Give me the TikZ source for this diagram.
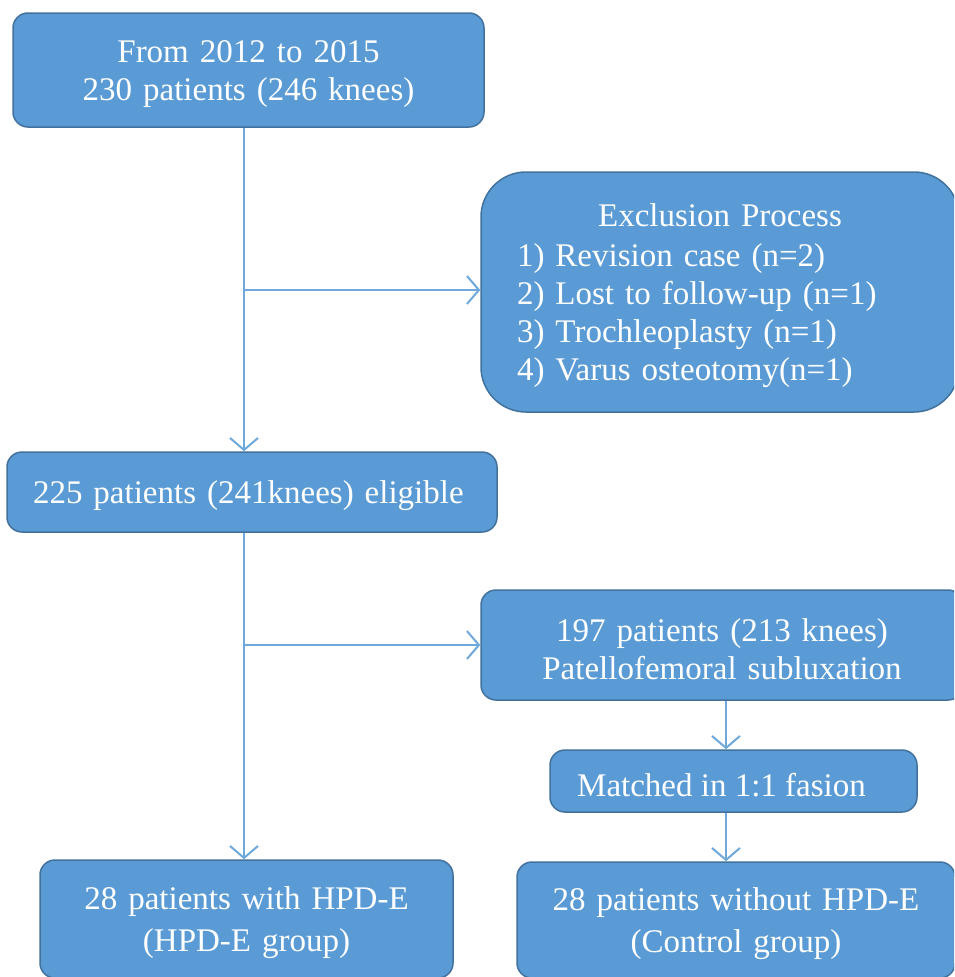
\documentclass[tikz,border=0pt]{standalone}
\usepackage{fontspec}
\setmainfont{Liberation Serif}
\usetikzlibrary{arrows.meta}
\definecolor{boxfill}{HTML}{5B9BD5}
\definecolor{boxline}{HTML}{41719C}
\definecolor{linkblue}{HTML}{6FA8DC}
\newcommand\boxfont{\fontsize{33}{38}\selectfont}
\tikzset{
  fbox/.style={draw=boxline, fill=boxfill, line width=1.5pt, rounded corners=15pt,
    text=white, font=\boxfont, align=center, inner sep=0pt,
    execute at begin node={\rule{0pt}{31pt}}},
  link/.style={draw=linkblue, line width=2pt,
    -{Straight Barb[length=12pt,width=28pt,line width=2pt]}},
}
\begin{document}
\begin{tikzpicture}[x=1pt,y=-1pt]
\useasboundingbox (0,0) rectangle (954,977);
\clip (0,0) rectangle (954,977);
\node[fbox, minimum width=471pt, minimum height=114pt, text width=451pt] (top) at (248.5,70)
  {From 2012 to 2015\\230 patients (246 knees)};
\node[fbox, rounded corners=45pt, minimum width=478pt, minimum height=240pt,
  text width=406pt, align=left] (excl) at (720,292)
  {\makebox[406pt][c]{Exclusion Process}\\[2pt]
   1) Revision case (n=2)\\
   2) Lost to follow-up (n=1)\\
   3) Trochleoplasty (n=1)\\
   4) Varus osteotomy(n=1)};
\node[fbox, minimum width=490pt, minimum height=80pt, text width=438pt, align=left] (elig) at (252,492)
  {225 patients (241knees) eligible};
\node[fbox, minimum width=482pt, minimum height=110pt, text width=462pt] (s197) at (722,645)
  {197 patients (213 knees)\\Patellofemoral subluxation};
\node[fbox, minimum width=367pt, minimum height=62pt] (match) at (733.5,781)
  {\hspace*{-24pt}Matched in 1:1 fasion};
\node[fbox, minimum width=413pt, minimum height=118pt, text width=393pt] (hpd) at (246.5,919)
  {28 patients with HPD-E\\[4pt](HPD-E group)};
\node[fbox, minimum width=438pt, minimum height=116pt, text width=418pt] (ctrl) at (736,920)
  {28 patients without HPD-E\\[4pt](Control group)};
\coordinate (j1) at (244,290);
\coordinate (j2) at (244,645);
\coordinate (c1) at (726,700);
\draw[link] (top.south -| j1) -- (elig.north -| j1);
\draw[link] (j1) -- (j1 -| excl.west);
\draw[link] (elig.south -| j1) -- (hpd.north -| j1);
\draw[link] (j2) -- (j2 -| s197.west);
\draw[link] (s197.south -| c1) -- (match.north -| c1);
\draw[link] (match.south -| c1) -- (ctrl.north -| c1);
\end{tikzpicture}
\end{document}
